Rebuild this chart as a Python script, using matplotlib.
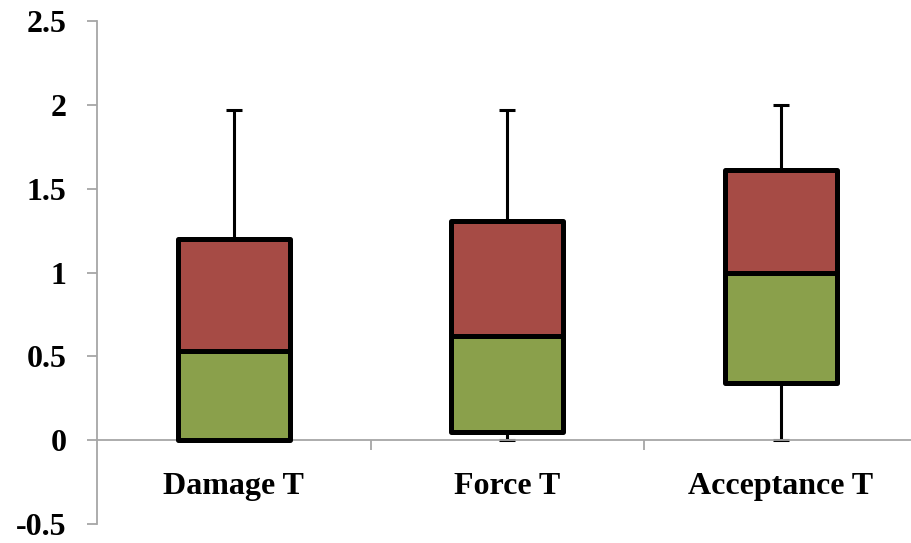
import matplotlib
matplotlib.use("Agg")
import matplotlib.pyplot as plt

categories = ["Damage T", "Force T", "Acceptance T"]
minimum = [0.0, 0.0, 0.0]
q1 = [0.0, 0.05, 0.34]
median = [0.53, 0.62, 1.00]
q3 = [1.20, 1.31, 1.61]
maximum = [1.97, 1.97, 2.00]

green = "#8AA04B"
red = "#A64B45"
axis_gray = "#A6A6A6"

plt.rcParams["font.family"] = ["Liberation Serif", "DejaVu Serif"]
plt.rcParams["font.weight"] = "bold"

fig = plt.figure(figsize=(9.11, 5.43), dpi=100)
ax = fig.add_axes([0.1065, 0.035, 0.9007, 0.926])

x = [1, 2, 3]
lower = [m - q for m, q in zip(median, q1)]
upper = [q - m for q, m in zip(q3, median)]

# stacked boxes: invisible base up to Q1, then Q1->median and median->Q3
ax.bar(x, lower, bottom=q1, width=0.41, color=green, edgecolor="black",
       linewidth=3.6, zorder=3, joinstyle="round")
ax.bar(x, upper, bottom=median, width=0.41, color=red, edgecolor="black",
       linewidth=3.6, zorder=3, joinstyle="round")

# whiskers
ax.errorbar(x, q3, yerr=[[0, 0, 0], [a - b for a, b in zip(maximum, q3)]],
            fmt="none", ecolor="black", elinewidth=2.2, capsize=5.5,
            capthick=2.2, zorder=2)
ax.errorbar(x, q1, yerr=[[a - b for a, b in zip(q1, minimum)], [0, 0, 0]],
            fmt="none", ecolor="black", elinewidth=2.2, capsize=5.5,
            capthick=2.2, zorder=2)

ax.set_xlim(0.5, 3.5)
ax.set_ylim(-0.5, 2.5)
ax.set_yticks([-0.5, 0, 0.5, 1, 1.5, 2, 2.5])
ax.set_yticklabels(["-0.5", "0", "0.5", "1", "1.5", "2", "2.5"])

ax.spines["top"].set_visible(False)
ax.spines["right"].set_visible(False)
ax.spines["bottom"].set_position(("data", 0))
for s in ["left", "bottom"]:
    ax.spines[s].set_color(axis_gray)
    ax.spines[s].set_linewidth(1.3)

ax.tick_params(axis="y", direction="out", length=7, width=1.3,
               color=axis_gray, pad=15, labelsize=23)
ax.set_xticks([1.5, 2.5])
ax.set_xticklabels([])
ax.tick_params(axis="x", direction="out", length=7, width=1.3,
               color=axis_gray)

for xi, name in zip(x, categories):
    ax.text(xi, -0.275, name, ha="center", va="center", fontsize=23,
            fontweight="bold")

fig.savefig("out.png", dpi=100)
